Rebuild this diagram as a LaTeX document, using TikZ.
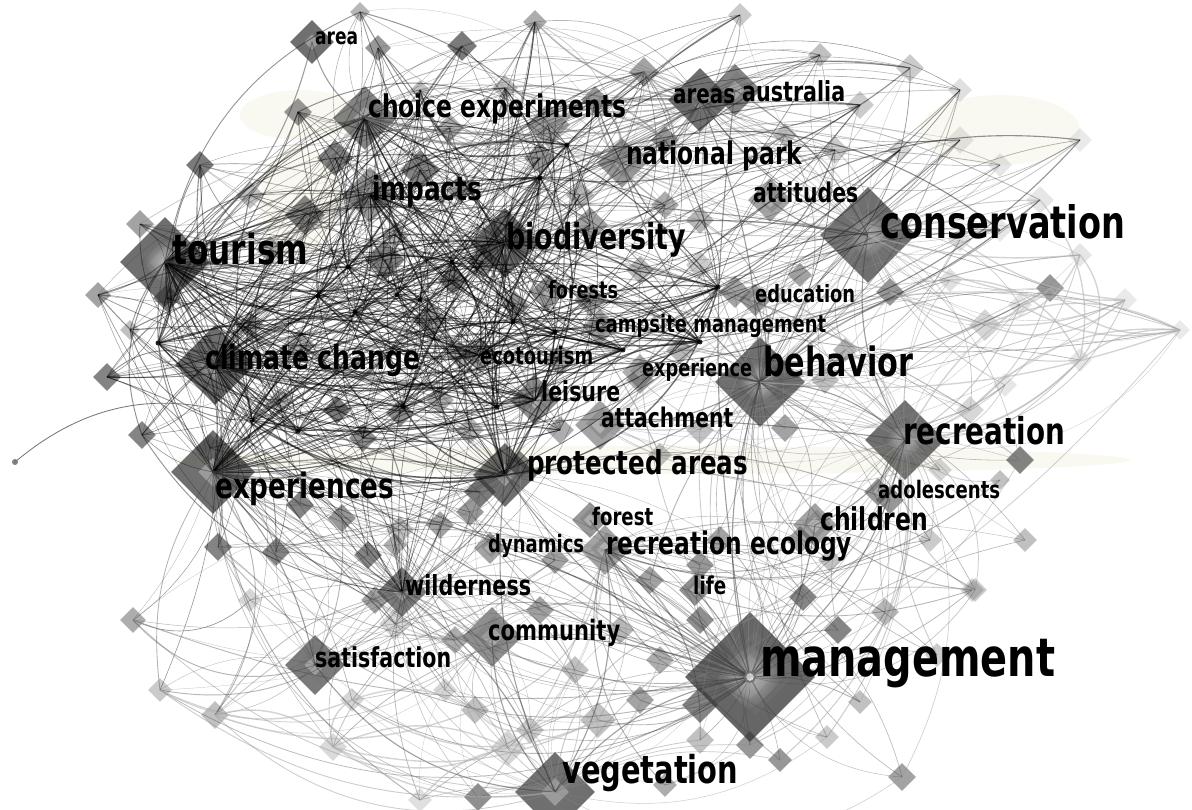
\documentclass[tikz,border=0pt]{standalone}
\usepackage{fontspec}
\usepackage{graphicx}
\newfontfamily\kwf{DejaVu Sans}[FakeStretch=0.75]
\usetikzlibrary{shapes.geometric}
\newcommand\kw[2]{\resizebox{#1pt}{!}{\kwf\bfseries #2}}
\newcommand\rbend{%
  \pgfmathsetmacro\bb{(rnd<0.5 ? -1 : 1)*(10+rnd*30)}}
\newcommand\hubfan[3]{%
  \foreach \t in {#2}{%
    \rbend
    \pgfmathsetmacro\ww{0.3+rnd*0.7}%
    \draw[#3,line width=\ww pt] (#1.center) to[bend left=\bb] (n\t.center);}}
\tikzset{
  dia/.style={diamond, aspect=1, inner sep=0pt, draw=none, fill=black!80},
  dot/.style={circle, inner sep=0pt, minimum size=5pt, fill=black!85},
  lab/.style={inner sep=0pt, text=black, anchor=base west},
  edk/.style={draw=black, draw opacity=0.42},
  emd/.style={draw=black!75, draw opacity=0.38},
  elt/.style={draw=black!45, draw opacity=0.45},
  evl/.style={draw=black!30, draw opacity=0.55, line width=1.4pt},
  egr/.style={draw=black!55, draw opacity=0.5, line width=1.5pt},
}
\definecolor{cream}{RGB}{249,247,236}
\begin{document}
\begin{tikzpicture}[x=1pt,y=-1pt]
\useasboundingbox (0,0) rectangle (1192,810);
\fill[white] (0,0) rectangle (1192,810);
% faint cream background glows
\fill[cream, opacity=0.7] (300,115) ellipse (60 and 25);
\fill[cream, opacity=0.7] (1000,130) ellipse (80 and 35);
\fill[cream, opacity=0.7] (300,200) ellipse (40 and 55);
\fill[cream, opacity=0.7] (650,460) ellipse (480 and 14);
% ---------- small diamonds ----------
\foreach \i/\x/\y/\h/\o in {
 1/378/48/13/.5, 2/462/46/15/.65, 3/535/22/12/.4, 4/298/112/14/.5, 5/450/128/14/.4,
 6/505/88/13/.3, 7/548/125/22/.45, 8/595/100/14/.5, 9/644/72/15/.45, 10/335/158/18/.6,
 11/420/170/20/.6, 12/305/215/20/.6, 13/200/165/14/.65, 14/140/224/14/.45, 15/250/195/14/.3,
 16/460/190/14/.45, 17/540/158/16/.5, 18/580/195/14/.35, 19/590/225/18/.45, 20/395/235/14/.35,
 21/270/250/14/.4, 22/360/12/10/.35, 23/420/90/10/.3,
 24/665/140/14/.5, 25/820/55/12/.3, 26/860/105/14/.25, 27/910/68/14/.25, 28/960/90/12/.15,
 29/835/150/14/.25, 30/900/150/12/.2, 31/960/140/14/.12, 32/1000/165/12/.12, 33/1040/200/14/.12,
 34/700/220/14/.35, 35/665/205/14/.4, 36/740/15/12/.25, 37/1080/140/12/.1, 38/1000/230/12/.12,
 39/785/135/12/.3,
 40/98/295/13/.45, 41/167/298/14/.65, 42/107/377/14/.6, 43/142/435/14/.6, 44/210/448/14/.4,
 45/337/410/14/.65, 46/363/438/14/.55, 47/385/260/20/.6, 48/453/280/15/.6, 49/400/413/14/.55,
 50/483/262/16/.55, 51/250/325/14/.4, 52/300/345/15/.4, 53/430/320/18/.45, 54/460/355/14/.4,
 55/560/360/16/.45, 56/590/300/16/.45, 57/280/400/12/.35, 58/515/305/14/.5, 59/440/400/14/.4,
 60/470/430/14/.35, 61/130/330/10/.3, 62/560/430/14/.4,
 63/640/270/14/.35, 64/700/265/14/.25, 65/735/292/16/.45, 66/800/275/12/.45, 67/890/292/14/.5,
 68/960/240/12/.15, 69/1050/288/14/.5, 70/1080/255/12/.12, 71/985/325/16/.2, 72/950/280/12/.15,
 73/1020/305/12/.12, 74/640/380/14/.4, 75/680/350/14/.35, 76/785/428/14/.45, 77/825/380/14/.3,
 78/845/350/12/.35, 79/970/410/14/.2, 80/1005/385/12/.12, 81/1020/460/14/.6, 82/1080/360/12/.12,
 83/940/470/12/.2, 84/700/430/14/.3, 85/660/455/12/.3, 86/1125/300/12/.1, 87/1180/330/10/.1,
 88/218/547/14/.6, 89/276/552/14/.6, 90/300/505/14/.6, 91/342/518/14/.5, 92/368/555/14/.6,
 93/400/530/14/.3, 94/480/492/16/.65, 95/520/465/14/.6, 96/470/512/14/.5, 97/440/525/14/.45,
 98/555/560/14/.45, 99/133/620/13/.4, 100/160/690/12/.25, 101/215/715/14/.3, 102/375/600/14/.45,
 103/395/624/16/.2, 104/455/640/14/.4, 105/540/610/14/.45, 106/475/710/14/.3, 107/530/730/14/.25,
 108/508/748/18/.2, 109/598/720/18/.3, 110/478/797/14/.55, 111/352/700/12/.2, 112/333/747/14/.18,
 113/420/800/12/.15, 114/445/690/12/.2, 115/395/545/12/.4, 116/250/600/12/.2, 117/620/630/14/.35,
 118/575/670/14/.3,
 119/650/580/14/.45, 120/700/565/14/.5, 121/720/540/14/.45, 122/800/540/14/.45, 123/830/560/12/.3,
 124/890/500/14/.5, 125/930/540/12/.25, 126/975/590/12/.25, 127/1025/540/12/.3, 128/803/597/14/.6,
 129/838/630/14/.6, 130/885/612/14/.35, 131/860/702/12/.3, 132/937/655/12/.25, 133/902/777/14/.45,
 134/972/590/12/.2, 135/827/737/12/.25, 136/700/705/18/.6, 137/665/785/12/.4, 138/700/740/14/.3,
 139/640/700/14/.45, 140/700/620/14/.55, 141/660/660/14/.4, 142/780/760/12/.5, 143/750/745/14/.5,
 144/1000/480/10/.3}
 \node[dia, minimum size={2*\h*1pt}, fill opacity=\o] (n\i) at (\x,\y) {};
% ---------- hub diamonds ----------
\foreach \nm/\x/\y/\h/\o in {
 tourism/165/262/45/.7, climate/215/365/40/.7, exper/213/472/42/.7, conserv/868/235/48/.7,
 manage/750/677/65/.75, behav/760/382/45/.7, recr/905/440/40/.7, veget/555/792/40/.7,
 biod/505/243/35/.7, prot/505/475/32/.7, choice/365/118/32/.6, areas/700/100/32/.7,
 austr/735/90/26/.6, impacts/370/195/28/.5, area/312/42/22/.7, natpark/622/163/25/.5,
 attit/770/200/22/.45, educ/755/300/16/.5, forests/548/292/18/.5, campsite/600/327/18/.45,
 ecot/480/355/18/.45, experience/640/372/18/.4, leisure/535/400/25/.55, attach/600/425/25/.45,
 adol/878/492/14/.5, children/815/525/22/.45, forest/590/520/18/.5, dyn/490/548/16/.45,
 rececol/605/550/25/.45, wild/402/592/25/.65, life/695/590/16/.55, commun/492/637/30/.55,
 satisf/315/665/30/.65}
{
 \node[dia, minimum size={2*\h*1pt}, fill opacity=\o] (\nm) at (\x,\y) {};
 \node[dia, minimum size={1.3*\h*1pt}, fill=black!55, fill opacity=0.4] (\nm-b) at (\x+0.08*\h,\y-0.06*\h) {};
 \node[dia, minimum size={0.7*\h*1pt}, fill=white, fill opacity=0.3] (\nm-c) at (\x,\y) {};
}
% glowing centres of the big hubs
\foreach \nm/\h in {conserv/48, manage/65, behav/45, recr/40, tourism/45, climate/40}
 \node[dia, minimum size={1.1*\h*1pt}, inner color=white, outer color=black!55, opacity=0.55] (\nm-g) at (\nm) {};
% ---------- small junction dots ----------
\foreach \i/\x/\y in {1/318/296, 2/348/267, 3/355/312, 4/397/295, 5/158/343, 6/252/420,
 7/298/431, 8/403/407, 9/497/407, 10/555/332, 11/623/350, 12/513/322, 13/718/287,
 14/700/342, 15/540/178, 16/567/145, 17/452/262, 18/420/300}
 \node[dot] (p\i) at (\x,\y) {};
\node[dot, minimum size=6pt, fill=black!50] (lone) at (15,462) {};
% ---------- connectors ----------
\pgfmathsetseed{4242}
\hubfan{tourism}{1,...,23}{edk}
\hubfan{tourism}{40,...,62}{edk}
\hubfan{tourism}{88,...,98}{edk}
\hubfan{climate}{1,...,23}{edk}
\hubfan{climate}{40,...,62}{edk}
\hubfan{climate}{88,...,104}{edk}
\hubfan{exper}{40,...,62}{edk}
\hubfan{exper}{88,...,118}{emd}
\hubfan{biod}{1,...,23}{edk}
\hubfan{biod}{24,...,39}{emd}
\hubfan{biod}{40,42,...,62}{edk}
\hubfan{biod}{63,65,...,87}{emd}
\hubfan{prot}{40,...,62}{emd}
\hubfan{prot}{88,...,98}{emd}
\hubfan{prot}{119,...,125}{emd}
\hubfan{choice}{1,...,23}{emd}
\hubfan{areas}{1,...,39}{emd}
\hubfan{impacts}{1,...,23}{emd}
\hubfan{impacts}{40,...,62}{emd}
\hubfan{conserv}{24,...,39}{elt}
\hubfan{conserv}{63,...,87}{elt}
\hubfan{conserv}{1,3,...,23}{elt}
\hubfan{behav}{24,...,39}{emd}
\hubfan{behav}{63,...,87}{emd}
\hubfan{behav}{119,...,135}{emd}
\hubfan{recr}{63,...,87}{elt}
\hubfan{recr}{119,...,144}{elt}
\hubfan{manage}{88,...,118}{emd}
\hubfan{manage}{119,...,144}{emd}
\hubfan{manage}{63,66,...,87}{elt}
\hubfan{veget}{99,...,118}{elt}
\hubfan{veget}{133,...,143}{elt}
\hubfan{satisf}{88,...,104}{emd}
\hubfan{commun}{88,...,118}{elt}
\hubfan{wild}{88,...,118}{emd}
\hubfan{wild}{40,...,62}{edk}
\hubfan{rececol}{119,...,144}{emd}
\hubfan{rececol}{98,...,110}{elt}
\hubfan{leisure}{40,...,62}{emd}
\hubfan{attach}{63,...,87}{elt}
\hubfan{natpark}{1,...,39}{elt}
% dots: heavy dark fans
\foreach \d in {1,...,18}{
  \foreach \k in {1,...,12}{
    \pgfmathtruncatemacro\t{random(1,62)}
    \rbend
    \pgfmathsetmacro\ww{0.4+rnd*0.8}
    \draw[edk, line width=\ww pt] (p\d.center) to[bend left=\bb] (n\t.center);
  }
  \foreach \h in {tourism,climate,exper,biod,impacts,choice,leisure,ecot,prot}{
    \rbend
    \pgfmathsetmacro\ww{0.5+rnd*1.0}
    \draw[edk, draw opacity=0.55, line width=\ww pt] (p\d.center) to[bend left=\bb] (\h.center);
  }
}
% hub-to-hub links
\foreach \a/\b/\c in {tourism/climate/20, tourism/exper/-25, climate/exper/15, tourism/biod/-15,
  climate/biod/10, biod/prot/20, climate/prot/-15, exper/prot/10, tourism/impacts/-10,
  choice/impacts/20, choice/areas/-15, areas/natpark/20, biod/natpark/-20, biod/areas/-25,
  conserv/behav/15, conserv/recr/-20, behav/recr/20, behav/manage/-15, recr/manage/20,
  manage/veget/-20, manage/prot/15, prot/veget/-15, behav/prot/15, conserv/biod/-10,
  conserv/tourism/-12, behav/climate/-10, manage/exper/-12, manage/climate/15, recr/exper/-10,
  conserv/areas/15, attit/conserv/-20, educ/behav/20, children/recr/-20, adol/recr/15,
  rececol/manage/-15, life/manage/10, wild/exper/20, satisf/exper/-15, commun/manage/10,
  commun/veget/-20, wild/veget/15, satisf/veget/-25, forests/biod/15, campsite/behav/-10,
  experience/behav/10, attach/behav/-15, leisure/climate/10, ecot/tourism/-15, dyn/manage/10,
  forest/manage/-10, areas/behav/10, austr/manage/-8, austr/conserv/15, area/tourism/20,
  area/choice/-20, impacts/climate/-20, natpark/behav/-15, rececol/veget/20, children/manage/15}
 \draw[emd, line width=1.1pt, draw opacity=0.5] (\a.center) to[bend left=\c] (\b.center);
% thick grey arcs in the upper centre
\foreach \a/\b/\c in {choice/n8/-30, n7/areas/-25, n8/natpark/30, areas/n9/20, n9/choice/25,
  n17/areas/-20, n6/austr/-20, n7/n24/30, n8/n35/-25, choice/n9/-35, n9/n35/30, n24/n39/-30,
  n6/n24/25, n3/areas/-20}
 \draw[egr] (\a.center) to[bend left=\c] (\b.center);
% light petals on the right
\foreach \a/\b/\c in {n71/n87/25, n69/n87/-30, n70/n82/40, n86/n71/30, n67/n86/-25,
  n72/n82/35, n69/n73/20, n73/n87/-20, conserv/n86/-15, conserv/n70/-10, behav/n87/-12,
  recr/n82/-20, n79/n87/25, n71/n70/-30, n33/n82/25, n68/n86/-15, n82/n87/20, recr/n69/15}
 \draw[evl] (\a.center) to[bend left=\c] (\b.center);
% light petals lower left
\foreach \a/\b/\c in {n112/n107/-30, n111/n106/25, n112/n111/40, n100/n111/-25, n101/n112/30,
  n112/n108/25, n106/n107/-30, n113/n108/20, n101/n106/-20, n111/n109/-30, n112/n109/-20,
  veget/n112/20, n107/n109/25}
 \draw[evl] (\a.center) to[bend left=\c] (\b.center);
% lone end
\draw[black!55, line width=0.8pt] (lone.center) to[bend left=30] (p6.center);
\draw[black!45, line width=0.6pt] (n99.center) to[bend right=35] (n116.center);
% management centre ring
\node[circle, draw=black!55, line width=2pt, fill=white, fill opacity=0.7, minimum size=10pt, inner sep=0pt] (mring) at (manage) {};
% ---------- labels ----------
\node[lab] (l-area) at (315,45) {\kw{43}{area}};
\node[lab] (l-choice) at (368,118) {\kw{258}{choice experiments}};
\node[lab] (l-areas) at (673,104) {\kw{62}{areas}};
\node[lab] (l-austr) at (742,102) {\kw{103}{australia}};
\node[lab] (l-natpark) at (626,165) {\kw{176}{national park}};
\node[lab] (l-impacts) at (372,201) {\kw{110}{impacts}};
\node[lab] (l-attit) at (753,203) {\kw{105}{attitudes}};
\node[lab] (l-conserv) at (880,239) {\kw{245}{conservation}};
\node[lab] (l-tourism) at (172,265) {\kw{136}{tourism}};
\node[lab] (l-biod) at (506,250) {\kw{180}{biodiversity}};
\node[lab] (l-forests) at (548,299) {\kw{70}{forests}};
\node[lab] (l-educ) at (755,303) {\kw{100}{education}};
\node[lab] (l-campsite) at (595,333) {\kw{231}{campsite management}};
\node[lab] (l-climate) at (205,370) {\kw{215}{climate change}};
\node[lab] (l-ecot) at (480,364) {\kw{113}{ecotourism}};
\node[lab] (l-experience) at (642,377) {\kw{110}{experience}};
\node[lab] (l-behav) at (763,377) {\kw{150}{behavior}};
\node[lab] (l-leisure) at (541,402) {\kw{79}{leisure}};
\node[lab] (l-attach) at (601,428) {\kw{132}{attachment}};
\node[lab] (l-recr) at (903,444) {\kw{162}{recreation}};
\node[lab] (l-prot) at (527,474) {\kw{221}{protected areas}};
\node[lab] (l-exper) at (215,498) {\kw{179}{experiences}};
\node[lab] (l-adol) at (878,498) {\kw{122}{adolescents}};
\node[lab] (l-children) at (820,530) {\kw{108}{children}};
\node[lab] (l-forest) at (592,525) {\kw{61}{forest}};
\node[lab] (l-dyn) at (488,552) {\kw{96}{dynamics}};
\node[lab] (l-rececol) at (606,554) {\kw{246}{recreation ecology}};
\node[lab] (l-wild) at (405,595) {\kw{126}{wilderness}};
\node[lab] (l-life) at (693,594) {\kw{33}{life}};
\node[lab] (l-commun) at (488,640) {\kw{132}{community}};
\node[lab] (l-satisf) at (315,667) {\kw{136}{satisfaction}};
\node[lab] (l-manage) at (760,676) {\kw{295}{management}};
\node[lab] (l-veget) at (562,783) {\kw{176}{vegetation}};
\end{tikzpicture}
\end{document}
